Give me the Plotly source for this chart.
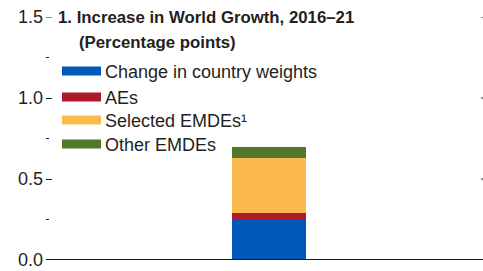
import plotly.graph_objects as go

categories = ["2016–21"]
series_names = ["Change in country weights", "AEs", "Selected EMDEs¹", "Other EMDEs"]
series_values = [[0.25], [0.04], [0.34], [0.07]]
colors = ["#0058B8", "#AE1A2C", "#FCBA4E", "#51772B"]
y_ticks = [0.0, 0.5, 1.0, 1.5]
y_tick_labels = ["0.0", "0.5", "1.0", "1.5"]

FONT = "Liberation Sans, Arial, sans-serif"
W, H = 483, 271
ml, mr, mt, mb = 46, 0, 17, 11

fig = go.Figure()
for name, vals, col in zip(series_names, series_values, colors):
    fig.add_trace(go.Bar(x=categories, y=vals, name=name, marker=dict(color=col, line=dict(width=0)),
                         width=0.8, showlegend=False))

pw = W - ml - mr
ph = H - mt - mb
def px(x):
    return (x - ml) / pw
def py(y):
    return (H - mb - y) / ph

shapes = []
annotations = []
# legend (manual)
leg_y = [71, 97, 120, 144]
for name, col, yy in zip(series_names, colors, leg_y):
    shapes.append(dict(type="rect", xref="paper", yref="paper",
                       x0=px(62), x1=px(101), y0=py(yy + 4.5), y1=py(yy - 4.5),
                       fillcolor=col, line=dict(width=0)))
    annotations.append(dict(text=name, xref="paper", yref="paper", x=px(103), y=py(yy + 0.5),
                            xanchor="left", yanchor="middle", showarrow=False,
                            font=dict(family=FONT, size=18, color="#231F20")))
annotations.append(dict(text="<b>1. Increase in World Growth, 2016–21</b>", xref="paper", yref="paper",
                        x=px(56), y=py(17), xanchor="left", yanchor="middle", showarrow=False,
                        font=dict(family=FONT, size=16.8, color="#231F20")))
annotations.append(dict(text="<b>(Percentage points)</b>", xref="paper", yref="paper",
                        x=px(77), y=py(43), xanchor="left", yanchor="middle", showarrow=False,
                        font=dict(family=FONT, size=16.8, color="#231F20")))
# top-left tick (edge tick) and small right-edge tick stubs
shapes.append(dict(type="line", xref="paper", yref="y", x0=0, x1=px(52), y0=y_ticks[-1], y1=y_ticks[-1],
                   line=dict(color="#231F20", width=1)))
for t in y_ticks[1:]:
    shapes.append(dict(type="line", xref="paper", yref="y", x0=px(481), x1=1, y0=t, y1=t,
                       line=dict(color="#231F20", width=1)))
# baseline
shapes.append(dict(type="line", xref="paper", yref="y", x0=0, x1=1, y0=0, y1=0,
                   line=dict(color="#1a1a1a", width=2)))

fig.update_layout(
    width=W, height=H, margin=dict(l=ml, r=mr, t=mt, b=mb),
    barmode="stack", plot_bgcolor="white", paper_bgcolor="white",
    shapes=shapes, annotations=annotations,
    font=dict(family=FONT, size=17, color="#231F20"),
    xaxis=dict(range=[-2.41, 2.32], showticklabels=False, showgrid=False, zeroline=False,
               ticks="", showline=False),
    yaxis=dict(range=[0, 1.5], tickvals=y_ticks, ticktext=y_tick_labels, ticks="inside",
               ticklen=6, tickcolor="#231F20", tickwidth=1, showgrid=False, zeroline=False,
               showline=False, ticklabelstandoff=2, tickfont=dict(size=18),
               minor=dict(dtick=0.25, ticks="inside", ticklen=3, tickcolor="#231F20", tickwidth=1,
                          showgrid=False)),
)
fig.write_html("out.html", config={"displayModeBar": False},
               post_script="document.body.style.margin='0';document.body.style.overflow='hidden';")
